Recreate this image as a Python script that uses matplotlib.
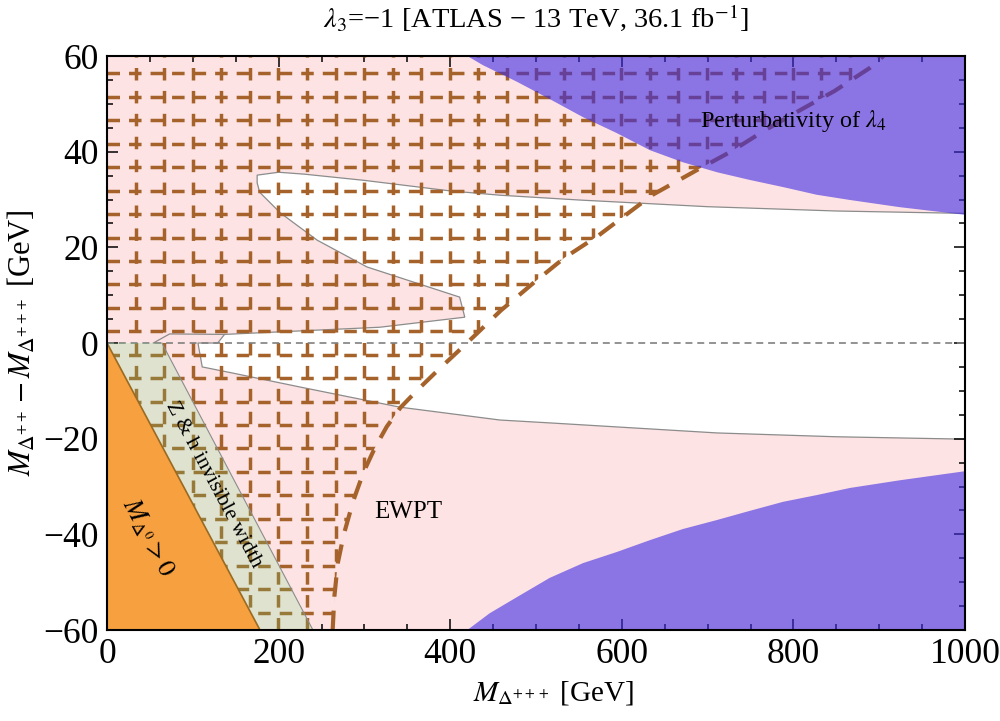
import matplotlib.pyplot as plt
from matplotlib.patches import Polygon
from matplotlib.ticker import MultipleLocator
import numpy as np

plt.rcParams['font.family'] = ['Liberation Serif', 'DejaVu Serif']
plt.rcParams['mathtext.fontset'] = 'stix'
plt.rcParams['lines.scale_dashes'] = False

# perturbativity of lambda_4 (purple)
pert_top_x = [420, 438, 478, 516, 555, 594, 633, 671, 711, 749, 788, 827, 866, 924, 1000]
pert_top_y = [60, 58.1, 54.6, 51.0, 47.2, 43.9, 40.3, 37.8, 35.7, 34.1, 32.6, 31.0, 29.9, 28.4, 26.8]
pert_bot_x = [420, 446, 478, 516, 555, 594, 633, 671, 711, 749, 788, 827, 866, 924, 1000]
pert_bot_y = [-60, -56.5, -53.1, -49.1, -46.0, -43.7, -41.2, -38.9, -37.0, -35.1, -33.2, -31.8, -30.3, -28.7, -26.8]

# EWPT boundary (dashed), hatched to the left
ewpt_x = [263, 265, 269, 276, 287, 299, 312, 326, 342, 362, 385, 410, 430, 459,
          498, 533, 573, 610, 636, 688, 728, 767, 810, 848, 889, 905]
ewpt_y = [-60, -53, -46, -40, -33, -27, -22, -17.5, -13.5, -9.8, -5.8, -1.6, 1.8, 6.8,
          12.7, 17.8, 22.5, 27.5, 31, 36.2, 40.1, 44.5, 48.9, 52.7, 57.5, 60]

# allowed region (white)
allowed_x = [175, 200, 230, 300, 400, 458, 550, 700, 850, 1000,
             1000, 850, 711, 516, 458, 341, 225, 147, 111,
             106, 129, 137, 318, 417, 411, 303, 245, 202, 178, 175]
allowed_y = [35.1, 35.7, 35.3, 34.0, 31.8, 30.9, 29.9, 28.5, 27.6, 27.1,
             -20.1, -19.6, -18.8, -16.7, -16.1, -13.4, -9.2, -6.3, -5.0,
             0, 0, 1.8, 3.3, 5.4, 9.6, 15.9, 21.5, 27.2, 31.5, 33.5]

# small contour piece near the invisible width band
contour_x = [54, 73, 137]
contour_y = [0, 1.9, 1.8]

# M_Delta0 > 0 (orange) and Z & h invisible width (olive)
orange_x = [0, 0, 178]
orange_y = [0, -60, -60]
olive_x = [0, 64, 240, 178]
olive_y = [0, 0, -60, -60]

pink = '#FDE3E3'
hatch = '#A5622A'

fig = plt.figure(figsize=(10, 7.21), dpi=100)
ax = fig.add_axes([0.107, 0.1262, 0.858, 0.7961])
ax.set_facecolor(pink)
ax.set_xlim(0, 1000)
ax.set_ylim(-60, 60)

# allowed region
ax.add_patch(Polygon(np.column_stack([allowed_x, allowed_y]), closed=True,
                     fc='white', ec='#8C8C8C', lw=0.9, zorder=1))
ax.plot(contour_x, contour_y, color='#8C8C8C', lw=0.9, zorder=1)

# hatching of the EWPT-excluded region
clip = Polygon(np.column_stack([[0] + ewpt_x + [0], [-60] + ewpt_y + [60]]),
               closed=True, fc='none', ec='none')
ax.add_patch(clip)
for xv in np.arange(33.3, 1000, 33.3):
    ln, = ax.plot([xv, xv], [-60, 60], color=hatch, lw=2.5,
                  dashes=(9, 7.5), zorder=2)
    ln.set_clip_path(clip)
for yv in np.arange(-56.35, 60, 4.9):
    ln, = ax.plot([0, 1000], [yv, yv], color=hatch, lw=2.5,
                  dashes=(9, 6.5), zorder=2)
    ln.set_clip_path(clip)
ax.plot(ewpt_x, ewpt_y, color=hatch, lw=3.0, dashes=(14, 10), zorder=3)

ax.axhline(0, color='#808080', lw=1.2, dashes=(5, 3.5), zorder=3)

# overlays
ax.add_patch(Polygon(np.column_stack([olive_x, olive_y]), closed=True,
                     fc='#62DE7A', alpha=0.2, ec='none', zorder=4))
ax.plot([64, 240], [0, -60], color='#8C8C8C', lw=0.8, zorder=4)
ax.add_patch(Polygon(np.column_stack([pert_top_x + [1000], pert_top_y + [60]]),
                     closed=True, fc='#3F2BE3', alpha=0.6, ec='none', zorder=4))
ax.add_patch(Polygon(np.column_stack([pert_bot_x + [1000], pert_bot_y + [-60]]),
                     closed=True, fc='#3F2BE3', alpha=0.6, ec='none', zorder=4))
ax.add_patch(Polygon(np.column_stack([orange_x, orange_y]), closed=True,
                     fc='#F6A040', ec='#9A6A20', lw=1.2, zorder=5))

# labels inside the plot
ax.text(800, 46.5, r'Perturbativity of $\lambda_4$', fontsize=17.5,
        ha='center', va='center', zorder=6)
ax.text(351, -35.3, 'EWPT', fontsize=18, ha='center', va='center', zorder=6)
ax.text(123.5, -29.7, 'Z & h invisible width', fontsize=15.5, rotation=-62,
        ha='center', va='center', rotation_mode='anchor', zorder=6)
ax.text(47.8, -40.6, r'$M_{\Delta^0}>0$', fontsize=19, rotation=-62,
        ha='center', va='center', rotation_mode='anchor', zorder=6)

# axes styling
for s in ax.spines.values():
    s.set_linewidth(1.5)
    s.set_zorder(7)
ax.xaxis.set_major_locator(MultipleLocator(200))
ax.xaxis.set_minor_locator(MultipleLocator(50))
ax.yaxis.set_major_locator(MultipleLocator(20))
ax.yaxis.set_minor_locator(MultipleLocator(5))
ax.tick_params(which='both', direction='in', top=True, right=True, width=1.1)
ax.tick_params(which='major', length=8, labelsize=25.5, pad=6)
ax.tick_params(which='minor', length=4)
ax.set_xticks([0, 200, 400, 600, 800, 1000])
ax.set_xticklabels(['0', '200', '400', '600', '800', '1000'])
ax.set_yticks([-60, -40, -20, 0, 20, 40, 60])
ax.set_yticklabels(['\u221260', '\u221240', '\u221220', '0', '20', '40', '60'])

ax.set_xlabel(r'$M_{\Delta^{+++}}$ [GeV]', fontsize=21, labelpad=8)
ax.xaxis.set_label_coords(0.52, -0.085)
ax.set_ylabel(r'$M_{\Delta^{++}}-M_{\Delta^{+++}}$ [GeV]', fontsize=22,
              labelpad=4)
fig.text(0.536, 0.975,
         '$\\lambda_3$=\u22121 [ATLAS \u2212 13 TeV, 36.1 fb$^{-1}$]',
         fontsize=20.5, ha='center', va='center')

fig.savefig('out.png', dpi=100)
